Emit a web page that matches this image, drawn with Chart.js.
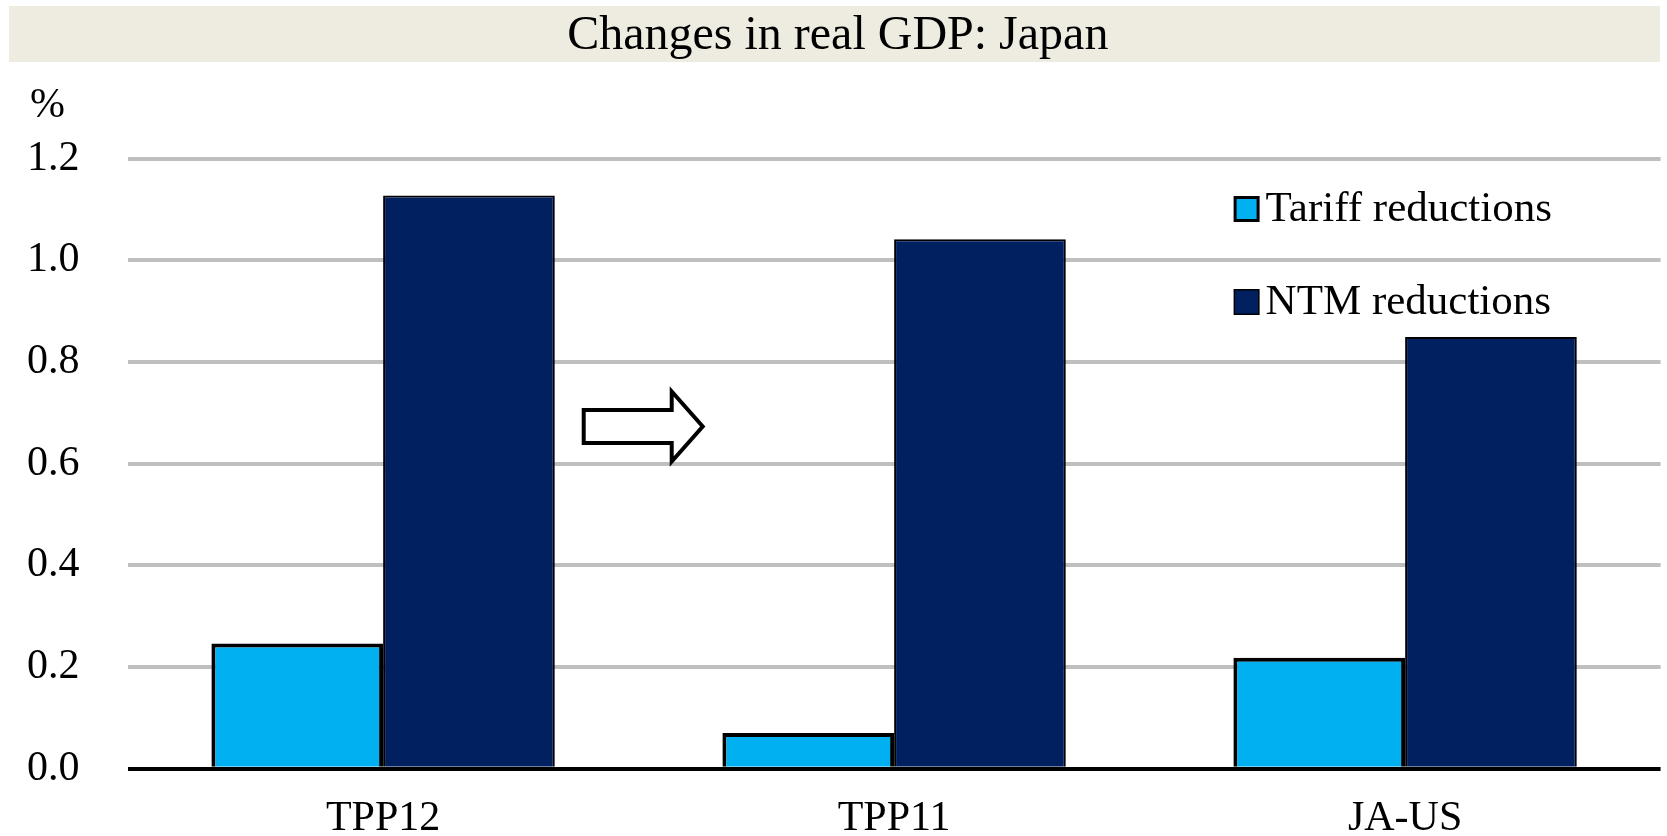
<!DOCTYPE html>
<html>
<head>
<meta charset="utf-8">
<title>Changes in real GDP: Japan</title>
<script src="https://cdn.jsdelivr.net/npm/chart.js@4.4.1/dist/chart.umd.min.js"></script>
<style>
    html, body { margin: 0; padding: 0; background: #fff; overflow: hidden; }
    #wrap { position: relative; width: 1667px; height: 836px; }
</style>
</head>
<body>
<div id="wrap"><canvas id="gdpChart"></canvas></div>
<script>
// Chart data (% change in real GDP)
const categories = ['TPP12', 'TPP11', 'JA-US'];
const tariffValues = [0.246, 0.070, 0.218];
const ntmValues = [1.127, 1.041, 0.849];
const seriesNames = ['Tariff reductions', 'NTM reductions'];
const yTicks = [0.0, 0.2, 0.4, 0.6, 0.8, 1.0, 1.2];

const FONT = '"Liberation Serif", "Times New Roman", serif';

const colors = {
    tariff: '#00B0F0',
    ntm: '#002060',
    grid: '#BFBFBF',
    band: '#EEECE1'
};

/**
 * Beige band behind the chart title
 */
const titleBand = {
    id: 'titleBand',
    beforeDraw(chart) {
        const { ctx } = chart;
        ctx.save();
        ctx.fillStyle = colors.band;
        ctx.fillRect(9, 6, 1651, 56);
        ctx.restore();
    }
};

/**
 * Unit label above the y axis and the stacked legend on the right
 */
const unitAndLegend = {
    id: 'unitAndLegend',
    afterDraw(chart) {
        const { ctx, chartArea } = chart;
        ctx.save();
        ctx.fillStyle = '#000';
        ctx.font = `42px ${FONT}`;
        ctx.textBaseline = 'alphabetic';
        ctx.textAlign = 'left';
        ctx.fillText('%', 30, 117);

        ctx.font = `43px ${FONT}`;
        const boxX = chartArea.right - 427;
        const rows = [209, 302];
        chart.data.datasets.forEach((ds, i) => {
            const cy = rows[i];
            const size = 26;
            ctx.fillStyle = ds.borderColor;
            ctx.fillRect(boxX, cy - size / 2, size, size);
            const b = i === 0 ? 3 : 1.5;
            ctx.fillStyle = ds.backgroundColor;
            ctx.fillRect(boxX + b, cy - size / 2 + b, size - 2 * b, size - 2 * b);

            ctx.fillStyle = '#000';
            ctx.textBaseline = 'middle';
            ctx.fillText(ds.label, boxX + 32, cy + 1);
        });
        ctx.restore();
    }
};

/**
 * Outlined arrow between the first two groups
 */
const arrowAnchor = { x: 0.51, y: 0.673 };
const gapArrow = {
    id: 'gapArrow',
    afterDatasetsDraw(chart) {
        const { ctx, scales } = chart;
        const cx = scales.x.getPixelForValue(arrowAnchor.x);
        const cy = scales.y.getPixelForValue(arrowAnchor.y);
        const pts = [[-60, -16.5], [28, -16.5], [28, -35], [59, 0], [28, 35], [28, 16.5], [-60, 16.5]];
        ctx.save();
        ctx.beginPath();
        pts.forEach(([dx, dy], i) => {
            if (i === 0) ctx.moveTo(cx + dx, cy + dy);
            else ctx.lineTo(cx + dx, cy + dy);
        });
        ctx.closePath();
        ctx.fillStyle = '#fff';
        ctx.fill();
        ctx.lineWidth = 4;
        ctx.lineJoin = 'miter';
        ctx.strokeStyle = '#000';
        ctx.stroke();
        ctx.restore();
    }
};

new Chart(document.getElementById('gdpChart'), {
    type: 'bar',
    data: {
        labels: categories,
        datasets: [{
            label: seriesNames[0],
            data: tariffValues,
            backgroundColor: colors.tariff,
            borderColor: '#000',
            borderWidth: 4,
            borderSkipped: 'start'
        }, {
            label: seriesNames[1],
            data: ntmValues,
            backgroundColor: colors.ntm,
            borderColor: '#000',
            borderWidth: 2,
            borderSkipped: 'start'
        }]
    },
    options: {
        responsive: true,
        maintainAspectRatio: false,
        animation: false,
        events: [],
        layout: { padding: { top: 0, left: 15, right: 6.4, bottom: 0 } },
        datasets: {
            bar: { categoryPercentage: 0.672, barPercentage: 1.0 }
        },
        plugins: {
            legend: { display: false },
            tooltip: { enabled: false },
            title: {
                display: true,
                text: 'Changes in real GDP: Japan',
                color: '#000',
                font: { family: FONT, size: 48, weight: 'normal', lineHeight: 1.2 },
                padding: { top: 8, bottom: 92.9 }
            }
        },
        scales: {
            x: {
                afterFit: s => { s.height = 67.3; },
                border: { display: false },
                grid: { display: false, drawTicks: false },
                ticks: {
                    padding: 25,
                    color: '#000',
                    font: { family: FONT, size: 42 }
                }
            },
            y: {
                min: yTicks[0],
                max: yTicks[yTicks.length - 1],
                afterBuildTicks: s => { s.ticks = yTicks.map(v => ({ value: v })); },
                afterFit: s => {
                    s.width = 112.6;
                    s.paddingBottom = 25;
                },
                border: { display: false },
                grid: {
                    color: ctx => ctx.tick.value === 0 ? '#000' : colors.grid,
                    lineWidth: 4,
                    drawTicks: false
                },
                ticks: {
                    padding: 48,
                    color: '#000',
                    font: { family: FONT, size: 42 },
                    callback: v => v.toFixed(1)
                }
            }
        }
    },
    plugins: [titleBand, gapArrow, unitAndLegend]
});
</script>
</body>
</html>
